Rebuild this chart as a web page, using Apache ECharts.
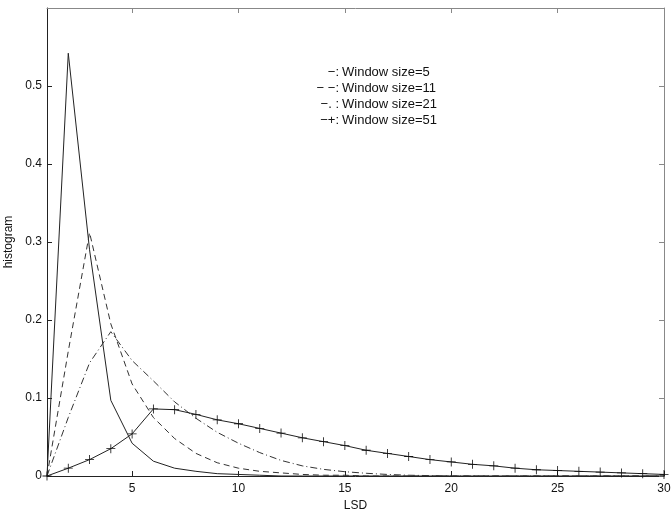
<!DOCTYPE html>
<html>
<head>
<meta charset="utf-8">
<script src="https://cdn.jsdelivr.net/npm/echarts@6/dist/echarts.min.js"></script>
<style>
html,body{margin:0;padding:0;background:#fff;}
#chart{width:672px;height:510px;}
</style>
</head>
<body>
<div id="chart"></div>
<script>
// LSD values (x axis)
var lsd = [1,2,3,4,5,6,7,8,9,10,11,12,13,14,15,16,17,18,19,20,21,22,23,24,25,26,27,28,29,30];
// histogram values per window size
var win5  = [0,0.542,0.29,0.097,0.042,0.019,0.010,0.006,0.003,0.002,0.001,0,0,0,0,0,0,0,0,0,0,0,0,0,0,0,0,0,0,0];
var win11 = [0,0.16,0.312,0.195,0.118,0.075,0.048,0.029,0.017,0.010,0.006,0.004,0.002,0.001,0.001,0,0,0,0,0,0,0,0,0,0,0,0,0,0,0];
var win21 = [0,0.075,0.145,0.185,0.148,0.122,0.095,0.074,0.056,0.042,0.030,0.020,0.013,0.0085,0.0055,0.0035,0.002,0.001,0.0005,0,0,0,0,0,0,0,0,0,0,0];
var win51 = [0,0.010,0.021,0.035,0.054,0.086,0.085,0.079,0.072,0.067,0.061,0.055,0.049,0.044,0.039,0.033,0.029,0.025,0.021,0.018,0.015,0.013,0.010,0.008,0.007,0.006,0.005,0.004,0.003,0.002];
var xTicks = [5,10,15,20,25,30];
var yTicks = [0,0.1,0.2,0.3,0.4,0.5];
var legendPrefix = ['\u2212:', '\u2212 \u2212:', '\u2212. :', '\u2212+:'];
var legendText = ['Window size=5', 'Window size=11', 'Window size=21', 'Window size=51'];

function pairs(arr){ return lsd.map(function(x,i){ return [x, arr[i]]; }); }

var chart = echarts.init(document.getElementById('chart'), null, {renderer:'canvas'});
var font = 'Liberation Sans, Arial, Helvetica, sans-serif';
var plus = 'path://M-0.09,-1 L0.09,-1 L0.09,-0.09 L1,-0.09 L1,0.09 L0.09,0.09 L0.09,1 L-0.09,1 L-0.09,0.09 L-1,0.09 L-1,-0.09 L-0.09,-0.09 Z';

var gfx = [];
var ly = [72, 88, 104, 120];
for (var i = 0; i < 4; i++) {
  gfx.push({type:'text', x:339, y:ly[i], style:{text:legendPrefix[i], font:'13px ' + font, fill:'#111', textAlign:'right', textVerticalAlign:'middle'}});
  gfx.push({type:'text', x:342, y:ly[i], style:{text:legendText[i], font:'13px ' + font, fill:'#111', textAlign:'left', textVerticalAlign:'middle'}});
}

var option = {
  animation: false,
  backgroundColor: '#fff',
  grid: {left:47, right:8, top:8, bottom:34, containLabel:false, outerBoundsMode:'none'},
  xAxis: [{
    type:'value', min:1, max:30, position:'bottom',
    name:'LSD', nameLocation:'middle', nameGap:22,
    nameTextStyle:{fontFamily:font, fontSize:12, color:'#111'},
    axisLine:{show:true, onZero:false, lineStyle:{color:'#222', width:1}},
    axisTick:{show:true, inside:true, length:5, customValues:xTicks, lineStyle:{color:'#222'}},
    axisLabel:{show:true, customValues:xTicks, margin:7, fontFamily:font, fontSize:12, color:'#111'},
    splitLine:{show:false}
  },{
    type:'value', min:1, max:30, position:'top',
    axisLine:{show:true, onZero:false, lineStyle:{color:'#888', width:1}},
    axisTick:{show:true, inside:true, length:5, customValues:xTicks, lineStyle:{color:'#888'}},
    axisLabel:{show:false},
    splitLine:{show:false}
  }],
  yAxis: [{
    type:'value', min:0, max:0.6, position:'left',
    name:'histogram', nameLocation:'middle', nameGap:24,
    nameTextStyle:{fontFamily:font, fontSize:12, color:'#111'},
    axisLine:{show:true, onZero:false, lineStyle:{color:'#222', width:1}},
    axisTick:{show:true, inside:true, length:5, customValues:yTicks, lineStyle:{color:'#222'}},
    axisLabel:{show:true, customValues:yTicks, margin:5, fontFamily:font, fontSize:12, color:'#111'},
    splitLine:{show:false}
  },{
    type:'value', min:0, max:0.6, position:'right',
    axisLine:{show:true, onZero:false, lineStyle:{color:'#888', width:1}},
    axisTick:{show:true, inside:true, length:5, customValues:yTicks, lineStyle:{color:'#888'}},
    axisLabel:{show:false},
    splitLine:{show:false}
  }],
  graphic: gfx,
  series: [
    {name:'Window size=5', type:'line', data:pairs(win5), showSymbol:false, symbol:'none',
     lineStyle:{color:'#222', width:1, type:'solid'}},
    {name:'Window size=11', type:'line', data:pairs(win11), showSymbol:false, symbol:'none',
     lineStyle:{color:'#333', width:1, type:[6,4]}},
    {name:'Window size=21', type:'line', data:pairs(win21), showSymbol:false, symbol:'none',
     lineStyle:{color:'#333', width:1, type:[7,3,1,3]}},
    {name:'Window size=51', type:'line', data:pairs(win51), symbol:plus, symbolSize:9, showSymbol:true,
     itemStyle:{color:'#111'},
     lineStyle:{color:'#222', width:1, type:'solid'}}
  ]
};
chart.setOption(option);
</script>
</body>
</html>
